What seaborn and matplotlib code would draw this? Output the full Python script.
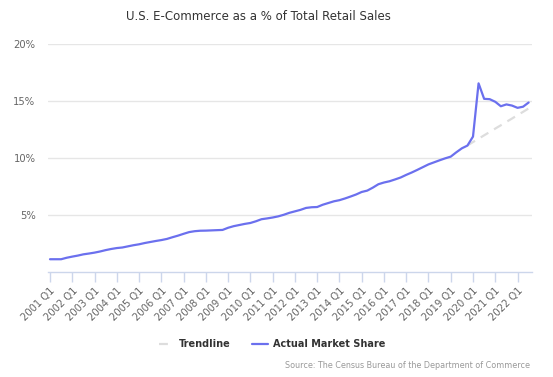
import matplotlib

matplotlib.use("Agg")
import matplotlib.pyplot as plt
import pandas as pd
import seaborn as sns
from matplotlib.lines import Line2D


TITLE = "U.S. E-Commerce as a % of Total Retail Sales"
SOURCE = "Source: The Census Bureau of the Department of Commerce"

YEARS = list(range(2001, 2023))
QUARTERS = [f"{y} Q{q}" for y in YEARS for q in (1, 2, 3, 4)][:87]

# e-commerce share of total retail sales, % (2001 Q1 .. 2022 Q3)
ACTUAL_SHARE = [
    1.12, 1.12, 1.12, 1.25, 1.35, 1.44, 1.55, 1.62, 1.70, 1.80,
    1.92, 2.02, 2.10, 2.15, 2.25, 2.35, 2.43, 2.54, 2.63, 2.72,
    2.80, 2.90, 3.05, 3.19, 3.35, 3.50, 3.58, 3.62, 3.63, 3.65,
    3.67, 3.69, 3.88, 4.02, 4.12, 4.22, 4.30, 4.45, 4.63, 4.70,
    4.78, 4.88, 5.02, 5.19, 5.32, 5.45, 5.62, 5.68, 5.70, 5.90,
    6.05, 6.20, 6.30, 6.45, 6.62, 6.80, 7.02, 7.14, 7.40, 7.70,
    7.85, 7.96, 8.12, 8.29, 8.52, 8.73, 8.96, 9.20, 9.44, 9.62,
    9.80, 9.97, 10.12, 10.50, 10.85, 11.09, 11.88, 16.55, 15.19, 15.16,
    14.93, 14.54, 14.70, 14.60, 14.40, 14.50, 14.87,
]

# pre-pandemic trend, 2019 Q4 .. 2022 Q3
TREND_START = "2019 Q4"
TRENDLINE = [11.10, 11.40, 11.69, 11.99, 12.28, 12.58, 12.87, 13.17, 13.46, 13.76, 14.05, 14.35]

Y_TICKS = [5, 10, 15, 20]

LINE_COLOR = "#6b70ee"
TREND_COLOR = "#dddddd"
AXIS_COLOR = "#ccd6eb"


def main() -> None:
    actual = pd.DataFrame({"quarter": QUARTERS, "share": ACTUAL_SHARE})
    actual["pos"] = range(len(actual))
    start = QUARTERS.index(TREND_START)
    trend = pd.DataFrame({"quarter": QUARTERS[start:start + len(TRENDLINE)], "share": TRENDLINE})
    trend["pos"] = range(start, start + len(trend))

    sns.set_style("white")
    plt.rcParams["font.family"] = ["DejaVu Sans"]

    fig = plt.figure(figsize=(5.53, 3.77), dpi=100)
    ax = fig.add_axes([48 / 553, 1 - 272 / 377, 484 / 553, 228 / 377])

    sns.lineplot(data=trend, x="pos", y="share", ax=ax, color=TREND_COLOR,
                 linewidth=1.6, linestyle=(0, (4, 3)))
    sns.lineplot(data=actual, x="pos", y="share", ax=ax, color=LINE_COLOR, linewidth=1.6)

    ax.set_xlim(-0.36, 86.6)
    ax.set_ylim(0, 20)

    q1_pos = [i for i, q in enumerate(QUARTERS) if q.endswith("Q1")]
    ax.set_xticks(q1_pos)
    ax.set_xticklabels([QUARTERS[i] for i in q1_pos], rotation=45, ha="right",
                       va="top", rotation_mode="anchor", fontsize=7.2, color="#666666")
    ax.tick_params(axis="x", bottom=True, length=7, width=1, color=AXIS_COLOR,
                   pad=3, direction="out")

    ax.set_yticks(Y_TICKS)
    ax.set_yticklabels([f"{v}%" for v in Y_TICKS], fontsize=7.2, color="#666666")
    ax.tick_params(axis="y", left=False, length=0, pad=9)
    ax.yaxis.grid(True, color="#e6e6e6", linewidth=1)
    ax.set_axisbelow(True)

    for side in ("top", "right", "left"):
        ax.spines[side].set_visible(False)
    ax.spines["bottom"].set_color(AXIS_COLOR)
    ax.spines["bottom"].set_linewidth(1)
    ax.set_xlabel("")
    ax.set_ylabel("")

    fig.text(258 / 553, 1 - 17 / 377, TITLE, ha="center", va="center",
             fontsize=8.5, color="#333333")

    handles = [
        Line2D([], [], color=TREND_COLOR, linewidth=1.6, linestyle=(0, (4, 3))),
        Line2D([], [], color=LINE_COLOR, linewidth=1.6),
    ]
    fig.legend(handles, ["Trendline", "Actual Market Share"], loc="center",
               bbox_to_anchor=(272 / 553, 1 - 344 / 377), ncol=2, frameon=False,
               prop={"weight": "bold", "size": 7.0}, labelcolor="#333333",
               handlelength=1.6, handletextpad=0.5, columnspacing=2.2)

    fig.text(530 / 553, 1 - 365 / 377, SOURCE, ha="right", va="center",
             fontsize=5.8, color="#999999")

    fig.savefig("out.png", dpi=100)
    plt.close(fig)


if __name__ == "__main__":
    main()
